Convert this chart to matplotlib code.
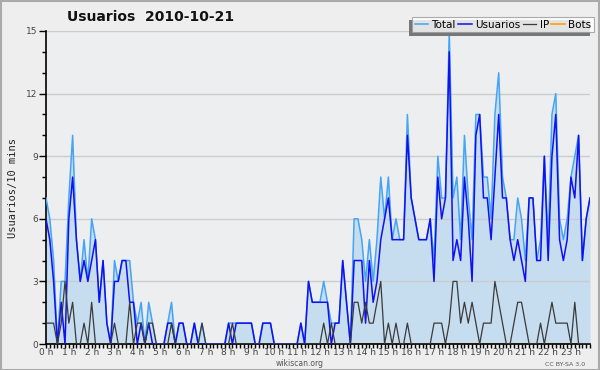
import numpy as np
import matplotlib
matplotlib.use("Agg")
import matplotlib.pyplot as plt
from matplotlib.ticker import MultipleLocator
import matplotlib.patheffects as pe

# valores cada 10 minutos (144 puntos)
usuarios = [6, 5, 3, 0, 2, 0, 6, 8, 5, 3, 4, 3,
            4, 5, 2, 4, 1, 0, 3, 3, 4, 4, 2, 2,
            0, 1, 0, 1, 0, 0, 0, 0, 1, 1, 0, 1,
            1, 0, 0, 1, 0, 0, 0, 0, 0, 0, 0, 0,
            1, 0, 1, 1, 1, 1, 1, 0, 0, 1, 1, 1,
            0, 0, 0, 0, 0, 0, 0, 1, 0, 3, 2, 2,
            2, 2, 2, 0, 1, 1, 4, 2, 0, 4, 4, 4,
            1, 4, 2, 3, 5, 6, 7, 5, 5, 5, 5, 10,
            7, 6, 5, 5, 5, 6, 3, 8, 6, 7, 14, 4,
            5, 4, 8, 6, 3, 10, 11, 7, 7, 5, 8, 11,
            7, 7, 5, 4, 5, 4, 3, 7, 7, 4, 4, 9,
            4, 9, 11, 5, 4, 5, 8, 7, 10, 4, 6, 7]
ip = [1, 1, 1, 0, 1, 3, 1, 2, 0, 0, 1, 0,
      2, 0, 0, 0, 0, 0, 1, 0, 0, 0, 2, 0,
      1, 1, 0, 1, 1, 0, 0, 0, 0, 1, 0, 0,
      0, 0, 0, 0, 0, 1, 0, 0, 0, 0, 0, 0,
      0, 1, 0, 0, 0, 0, 0, 0, 0, 0, 0, 0,
      0, 0, 0, 0, 0, 0, 0, 0, 0, 0, 0, 0,
      0, 1, 0, 1, 0, 0, 0, 0, 0, 2, 2, 1,
      2, 1, 1, 2, 3, 0, 1, 0, 1, 0, 0, 1,
      0, 0, 0, 0, 0, 0, 1, 1, 1, 0, 1, 3,
      3, 1, 2, 1, 2, 1, 0, 1, 1, 1, 3, 2,
      1, 0, 0, 1, 2, 2, 1, 0, 0, 0, 1, 0,
      1, 2, 1, 1, 1, 1, 0, 2, 0, 0, 0, 0]
total = [7, 6, 4, 0, 3, 3, 7, 10, 5, 3, 5, 3,
         6, 5, 2, 4, 1, 0, 4, 3, 4, 4, 4, 2,
         1, 2, 0, 2, 1, 0, 0, 0, 1, 2, 0, 1,
         1, 0, 0, 1, 0, 1, 0, 0, 0, 0, 0, 0,
         1, 1, 1, 1, 1, 1, 1, 0, 0, 1, 1, 1,
         0, 0, 0, 0, 0, 0, 0, 1, 0, 3, 2, 2,
         2, 3, 2, 1, 1, 1, 4, 2, 0, 6, 6, 5,
         3, 5, 3, 5, 8, 6, 8, 5, 6, 5, 5, 11,
         7, 6, 5, 5, 5, 6, 4, 9, 7, 7, 15, 7,
         8, 5, 10, 7, 5, 11, 11, 8, 8, 6, 11, 13,
         8, 7, 5, 5, 7, 6, 4, 7, 7, 4, 5, 9,
         5, 11, 12, 6, 5, 6, 8, 9, 10, 4, 6, 7]
bots = [0] * 144

horas = [f"{h} h" for h in range(24)]

x = np.arange(len(total)) / 6.0

fig = plt.figure(figsize=(6, 3.7), dpi=100, facecolor="#eeeeee")
ax = fig.add_axes([46 / 600, 26 / 370, 544 / 600, 313 / 370])
ax.set_facecolor("#edeef0")

ax.fill_between(x, total, 0, color="#c6dcef", lw=0, zorder=1)
ax.plot(x, total, color="#44a4f5", lw=1.1, label="Total", zorder=3)
ax.plot(x, usuarios, color="#1010f0", lw=1.1, label="Usuarios", zorder=4)
ax.plot(x, ip, color="#3a3a3a", lw=0.9, label="IP", zorder=5)
ax.plot(x, bots, color="#ff9900", lw=1.1, label="Bots", zorder=2)

ax.set_xlim(0, x[-1])
ax.set_ylim(0, 15)
ax.yaxis.set_major_locator(MultipleLocator(3))
ax.yaxis.set_minor_locator(MultipleLocator(1))
ax.set_xticks(range(24))
ax.set_xticklabels(horas)
ax.xaxis.set_minor_locator(MultipleLocator(1 / 6))
ax.grid(axis="y", which="major", color="#cccccc", lw=1, zorder=0)

for s in ["top", "right"]:
    ax.spines[s].set_visible(False)
for s in ["left", "bottom"]:
    ax.spines[s].set_color("black")
    ax.spines[s].set_linewidth(1.2)

ax.tick_params(axis="y", which="major", direction="out", length=5,
               width=1, labelsize=6.5, labelcolor="#444444", pad=1)
ax.tick_params(axis="x", which="major", direction="out", length=3,
               width=1, labelsize=6.5, labelcolor="#444444", pad=0)
ax.tick_params(axis="both", which="minor", direction="out", length=3, width=1)

ax.set_ylabel("Usuarios/10 mins", fontsize=7.5, family="DejaVu Sans Mono",
              color="#222222", labelpad=6)

fig.text(151 / 600, 1 - 17 / 370, "Usuarios  2010-10-21", fontsize=10,
         fontweight="bold", ha="center", va="center", color="#111111")

leg = ax.legend(loc="upper right", ncol=4, fontsize=7.5, frameon=True,
                bbox_to_anchor=(1.007, 1.045), handlelength=1.3,
                handletextpad=0.3, columnspacing=0.25, borderpad=0.25,
                fancybox=False, shadow=False, borderaxespad=0)
leg.get_frame().set_edgecolor("#999999")
leg.get_frame().set_linewidth(0.8)
leg.get_frame().set_path_effects([pe.SimplePatchShadow(offset=(-2.5, -2.5), shadow_rgbFace="#777777", alpha=1), pe.Normal()])
leg.set_zorder(10)

fig.text(0.5, 1 - 364 / 370, "wikiscan.org", fontsize=5.5, color="#555555",
         ha="center", va="center")
fig.text(565 / 600, 1 - 364 / 370, "CC BY-SA 3.0", fontsize=4.5,
         color="#555555", ha="center", va="center")

# borde exterior
fig.patches.append(plt.Rectangle((0.001, 0.001), 0.998, 0.997, transform=fig.transFigure,
                                 fill=False, edgecolor="#aaaaaa", lw=1.5))

fig.savefig("out.png", dpi=100, facecolor=fig.get_facecolor())
